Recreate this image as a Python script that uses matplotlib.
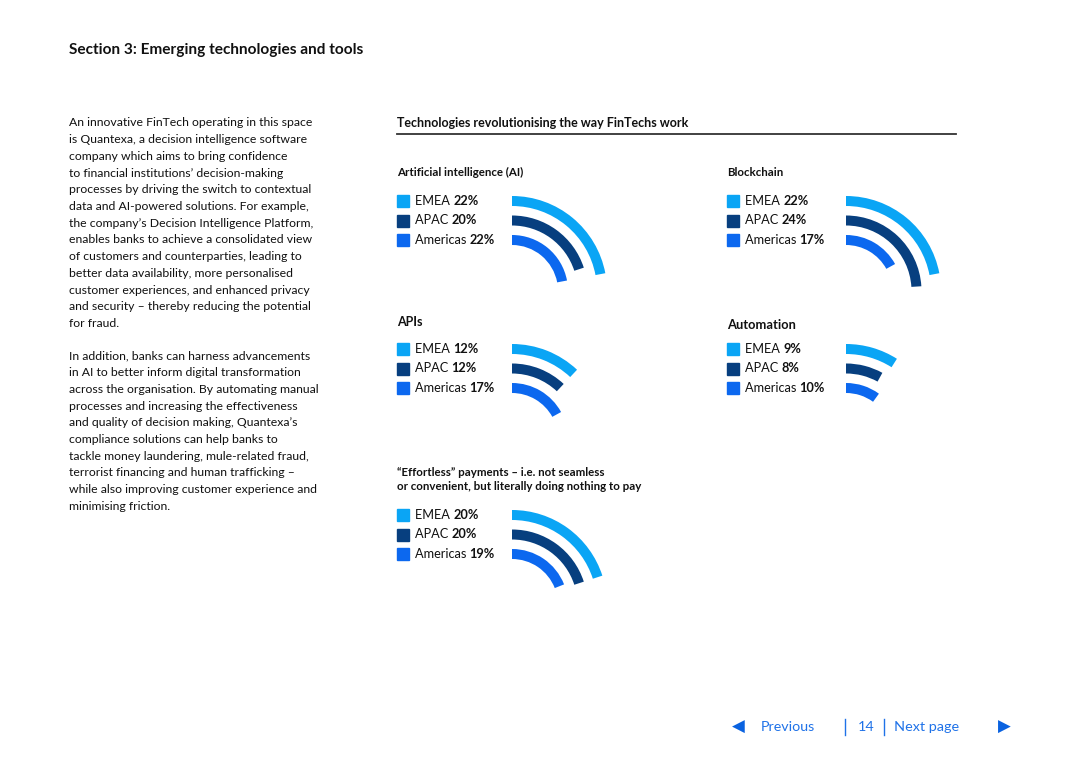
import matplotlib
matplotlib.use("Agg")
import matplotlib.pyplot as plt
from matplotlib.patches import Wedge, Rectangle

plt.rcParams['font.family'] = ['Lato', 'DejaVu Sans']

# data
chart_titles = ["Artificial intelligence (AI)", "Blockchain", "APIs", "Automation",
                "\u201cEffortless\u201d payments \u2013 i.e. not seamless\nor convenient, but literally doing nothing to pay"]
regions = ["EMEA", "APAC", "Americas"]
emea = [22, 22, 12, 9, 20]
apac = [20, 24, 12, 8, 20]
americas = [22, 17, 17, 10, 19]

para1 = ["An innovative FinTech operating in this space",
         "is Quantexa, a decision intelligence software",
         "company which aims to bring confidence",
         "to financial institutions\u2019 decision-making",
         "processes by driving the switch to contextual",
         "data and AI-powered solutions. For example,",
         "the company\u2019s Decision Intelligence Platform,",
         "enables banks to achieve a consolidated view",
         "of customers and counterparties, leading to",
         "better data availability, more personalised",
         "customer experiences, and enhanced privacy",
         "and security \u2013 thereby reducing the potential",
         "for fraud."]
para2 = ["In addition, banks can harness advancements",
         "in AI to better inform digital transformation",
         "across the organisation. By automating manual",
         "processes and increasing the effectiveness",
         "and quality of decision making, Quantexa\u2019s",
         "compliance solutions can help banks to",
         "tackle money laundering, mule-related fraud,",
         "terrorist financing and human trafficking \u2013",
         "while also improving customer experience and",
         "minimising friction."]

colors = ["#0aa5f5", "#073f7f", "#0c68ef"]
dark = "#111111"

# layout (pixels)
W, H = 1080, 763
panels = [  # legend x, first row y, arc start x, title y, title size
    (397, 201, 512, 172, 8.3),
    (727, 201, 846, 172, 8.3),
    (397, 349, 512, 322, 9.0),
    (727, 349, 846, 325, 9.3),
    (397, 515, 512, 472, 8.3),
]

fig = plt.figure(figsize=(W / 100, H / 100), dpi=100)
ax = fig.add_axes([0, 0, 1, 1])
ax.set_xlim(0, W)
ax.set_ylim(H, 0)
ax.axis('off')

ax.text(69, 50, "Section 3: Emerging technologies and tools", fontsize=11.1,
        fontweight='bold', color=dark, va='center')

for i, line in enumerate(para1):
    ax.text(69, 123 + i * 16.7, line, fontsize=8.85, color=dark, va='center')
for i, line in enumerate(para2):
    ax.text(69, 356 + i * 16.7, line, fontsize=8.85, color=dark, va='center')

ax.text(397, 123, "Technologies revolutionising the way FinTechs work", fontsize=9.0,
        fontweight='bold', color=dark, va='center')
ax.plot([397, 956], [134, 134], color="#333333", lw=1.3)

for k, (lx, ry, ax0, ty, tsz) in enumerate(panels):
    title = chart_titles[k]
    if "\n" in title:
        for j, t in enumerate(title.split("\n")):
            ax.text(lx, ty + j * 15, t, fontsize=tsz, fontweight='bold', color=dark, va='center')
    else:
        ax.text(lx, ty, title, fontsize=tsz, fontweight='bold', color=dark, va='center')
    vals = [emea[k], apac[k], americas[k]]
    cy = ry + 90
    for j, (name, v, c) in enumerate(zip(regions, vals, colors)):
        y = ry + j * 19.5
        ax.add_patch(Rectangle((lx, y - 6), 12, 12, color=c))
        t1 = ax.text(lx + 18, y, name + " ", fontsize=9.2, color=dark, va='center')
        ax.annotate(f"{v}%", xy=(1, 0), xycoords=t1, fontsize=9.2, fontweight='bold',
                    color=dark, va='bottom', ha='left')
        r = 95 - j * 19.5
        ax.add_patch(Wedge((ax0, cy), r, 270, 270 + v * 3.6, width=10, color=c, lw=0))

# footer navigation
nav = "#1f72e8"
ax.text(738, 727, "\u25C0", fontsize=12, color="#0a62e0", ha='center', va='center',
        family='DejaVu Sans')
ax.text(761, 727, "Previous", fontsize=10.3, color=nav, va='center')
ax.plot([845, 845], [719, 735], color=nav, lw=1)
ax.text(858, 727, "14", fontsize=10.3, color=nav, va='center')
ax.plot([884, 884], [719, 735], color=nav, lw=1)
ax.text(894, 727, "Next page", fontsize=10.4, color=nav, va='center')
ax.text(1004, 727, "\u25B6", fontsize=12, color="#0a62e0", ha='center', va='center',
        family='DejaVu Sans')

fig.savefig("out.png", dpi=100, facecolor='white')
